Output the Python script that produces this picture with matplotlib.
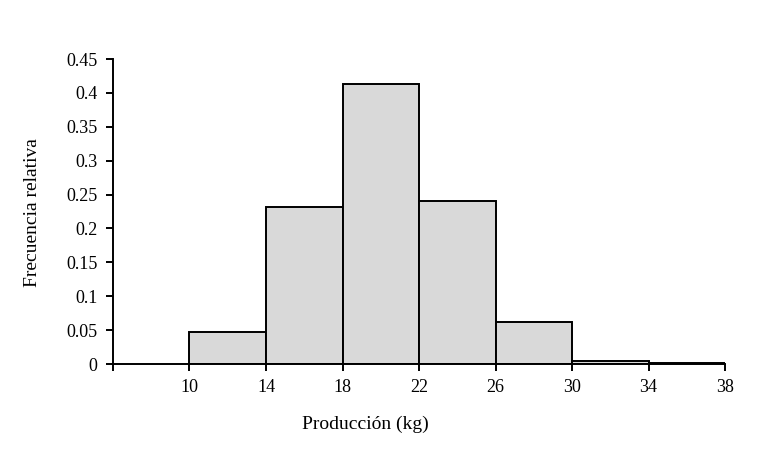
import matplotlib
matplotlib.use("Agg")
import matplotlib.pyplot as plt

bin_edges = [6, 10, 14, 18, 22, 26, 30, 34, 38]
rel_freq = [0.0, 0.047, 0.232, 0.413, 0.241, 0.062, 0.0045, 0.0015]
tick_labels = ["", "10", "14", "18", "22", "26", "30", "34", "38"]
y_ticks = [0, 0.05, 0.1, 0.15, 0.2, 0.25, 0.3, 0.35, 0.4, 0.45]
y_tick_labels = ["0", "0.05", "0.1", "0.15", "0.2", "0.25", "0.3", "0.35", "0.4", "0.45"]

plt.rcParams['font.family'] = ['Liberation Serif', 'DejaVu Serif']

fig = plt.figure(figsize=(7.83, 4.58), dpi=100)
ax = fig.add_axes([0.1443, 0.2052, 0.926 - 0.1443, 0.871 - 0.2052])

lefts = bin_edges[:-1]
widths = [b - a for a, b in zip(bin_edges[:-1], bin_edges[1:])]
for l, w, h in zip(lefts, widths, rel_freq):
    if h > 0:
        ax.bar(l, h, width=w, align='edge', color='#d9d9d9', edgecolor='black', linewidth=1.4)

ax.set_xlim(6, 38)
ax.set_ylim(0, 0.45)
ax.set_xticks(bin_edges)
ax.set_xticklabels(tick_labels, fontsize=13)
ax.set_yticks(y_ticks)
ax.set_yticklabels(y_tick_labels, fontsize=13)
ax.spines['top'].set_visible(False)
ax.spines['right'].set_visible(False)
for s in ['left', 'bottom']:
    ax.spines[s].set_linewidth(1.4)
ax.tick_params(axis='both', direction='out', length=5, width=1.4, pad=6)
ax.set_xlabel("Producción (kg)", fontsize=14)
ax.xaxis.set_label_coords(0.413, -0.17)
ax.set_ylabel("Frecuencia relativa", fontsize=14)
ax.yaxis.set_label_coords(-0.117, 0.497)

fig.savefig("out.png", dpi=100)
